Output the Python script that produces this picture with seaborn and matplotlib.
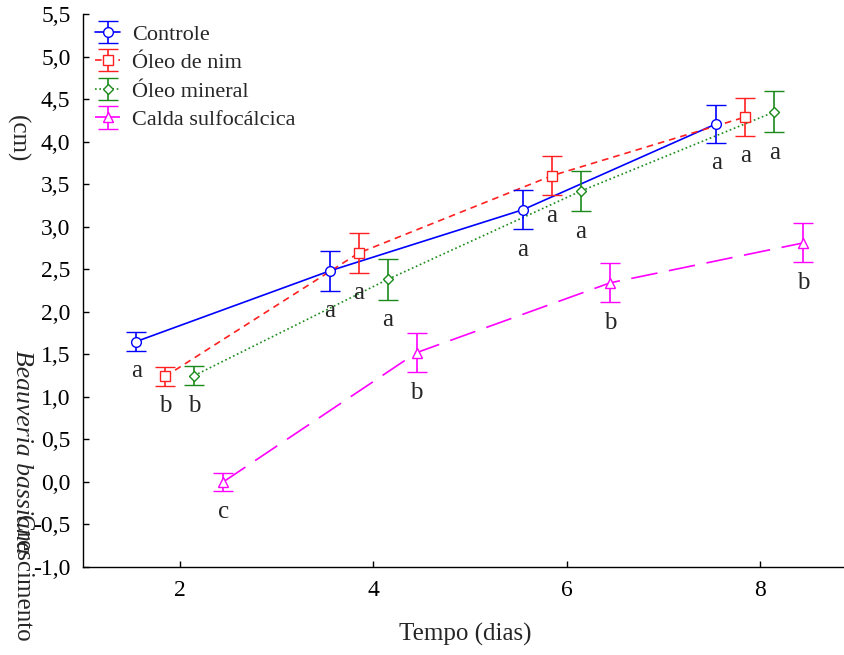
import matplotlib
matplotlib.use("Agg")
import matplotlib.pyplot as plt
from matplotlib.legend_handler import HandlerTuple
import seaborn as sns
import numpy as np
import pandas as pd

# dados
dias = [2, 4, 6, 8]
tratamentos = ["Controle", "Óleo de nim", "Óleo mineral", "Calda sulfocálcica"]
controle = [1.65, 2.48, 3.20, 4.21]
controle_ep = [0.11, 0.23, 0.23, 0.225]
nim = [1.24, 2.69, 3.60, 4.29]
nim_ep = [0.11, 0.23, 0.23, 0.225]
mineral = [1.25, 2.38, 3.42, 4.35]
mineral_ep = [0.115, 0.24, 0.24, 0.24]
calda = [0.0, 1.52, 2.34, 2.81]
calda_ep = [0.11, 0.23, 0.23, 0.23]
letras_controle = ["a", "a", "a", "a"]
letras_nim = ["b", "a", "a", "a"]
letras_mineral = ["b", "a", "a", "a"]
letras_calda = ["c", "b", "b", "b"]

medias = [controle, nim, mineral, calda]
erros = [controle_ep, nim_ep, mineral_ep, calda_ep]
letras = [letras_controle, letras_nim, letras_mineral, letras_calda]
desloc = [-0.45, -0.15, 0.15, 0.45]

cores = {"Controle": "#0000ff", "Óleo de nim": "#ff2020",
         "Óleo mineral": "#1a8a1a", "Calda sulfocálcica": "#ff00ff"}
tracos = {"Controle": "", "Óleo de nim": (4, 3),
          "Óleo mineral": (1, 1.6), "Calda sulfocálcica": (16, 7)}
marcas = {"Controle": "o", "Óleo de nim": "s",
          "Óleo mineral": "D", "Calda sulfocálcica": "^"}
tam = {"Controle": 7, "Óleo de nim": 6.5, "Óleo mineral": 5.5, "Calda sulfocálcica": 7}

rows = []
for t, m, d in zip(tratamentos, medias, desloc):
    for dia, v in zip(dias, m):
        rows.append([t, dia, dia + d, v])
df = pd.DataFrame(rows, columns=["Tratamento", "Tempo", "pos", "Crescimento"])

sns.set_style("ticks")
plt.rcParams["font.family"] = ["Liberation Serif", "DejaVu Serif"]

fig = plt.figure(figsize=(8.45, 6.55), dpi=100)
ax = fig.add_axes([83 / 845, 1 - 567 / 655, 764 / 845, 553 / 655])

sns.lineplot(data=df, x="pos", y="Crescimento", hue="Tratamento", style="Tratamento",
             palette=cores, dashes=tracos, estimator=None, lw=1.2, legend=False,
             ax=ax, hue_order=tratamentos, style_order=tratamentos)
linhas = list(ax.lines)

handles = []
for i, t in enumerate(tratamentos):
    sub = df[df.Tratamento == t]
    eb = ax.errorbar(sub.pos, sub.Crescimento, yerr=erros[i], fmt=marcas[t], ls="none",
                     color=cores[t], mfc="white", mec=cores[t], ms=tam[t], mew=1.0,
                     capsize=7.2, capthick=1.2, elinewidth=1.2, zorder=3)
    handles.append((linhas[i], eb))
    for x, y, e, l in zip(sub.pos, sub.Crescimento, erros[i], letras[i]):
        ax.annotate(l, (x, y - e), xytext=(0, -19), textcoords="offset points",
                    ha="center", va="baseline", fontsize=18)

ax.set_xlim(1.0, 8.9)
ax.set_ylim(-1.0, 5.5)
ax.set_xticks([2, 4, 6, 8])
yt = np.arange(-1.0, 5.51, 0.5)
ax.set_yticks(yt)
ax.set_yticklabels([f"{v:.1f}".replace(".", ",") for v in yt])
ax.tick_params(direction="in", length=4, width=1, labelsize=17, colors="black", pad=9)
for s in ["top", "right"]:
    ax.spines[s].set_visible(False)
for s in ["left", "bottom"]:
    ax.spines[s].set_linewidth(1.0)
    ax.spines[s].set_color("black")
ax.set_xlabel("Tempo (dias)", fontsize=18, labelpad=16)
ax.set_ylabel("")

leg = ax.legend(handles, tratamentos, loc="upper left", bbox_to_anchor=(-0.004, 1.01),
                frameon=False, fontsize=16, handlelength=1.1, handletextpad=0.55,
                labelspacing=0.36, borderaxespad=0.3,
                handler_map={tuple: HandlerTuple(ndivide=1)})

# rotulo do eixo y (sobreposto como no original)
fig.text(17 / 845, 1 - 115 / 655, "(cm)", rotation=270, rotation_mode="anchor",
         ha="left", va="center", fontsize=18)
fig.text(22 / 845, 1 - 350 / 655, "Beauveria bassiana", rotation=270, rotation_mode="anchor",
         ha="left", va="center", fontsize=18.5, style="italic")
fig.text(22 / 845, 1 - 515 / 655, "Crescimento", rotation=270, rotation_mode="anchor",
         ha="left", va="center", fontsize=18)

fig.savefig("out.png", dpi=100)
